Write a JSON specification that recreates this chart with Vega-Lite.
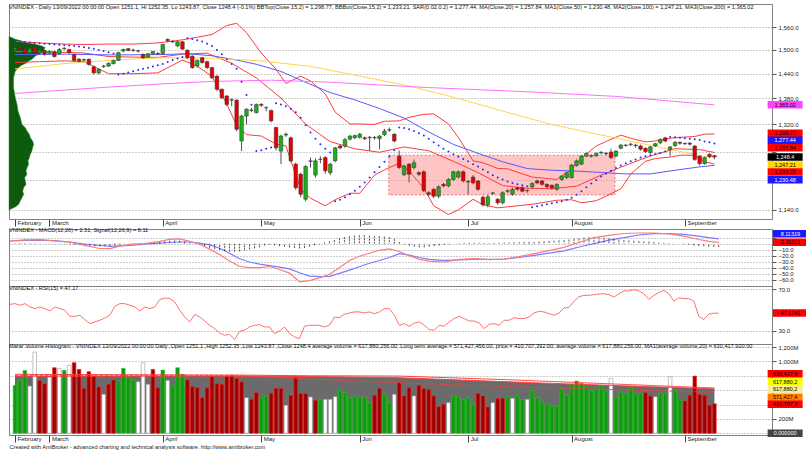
{
"$schema":"https://vega.github.io/schema/vega-lite/v6.json",
"background":"white",
"padding":{"left":7,"top":3,"right":0,"bottom":0},
"autosize":{"type":"pad"},
"config":{
"font":"Liberation Sans",
"view":{"stroke":"#808080","strokeWidth":1},
"axis":{"labelFont":"Liberation Sans","labelFontSize":6,"labelColor":"#222","tickColor":"#555","domain":false,"gridColor":"#9a9a9a","gridDash":[1,2],"gridWidth":1,"labelOverlap":false},
"title":{"font":"Liberation Sans","fontSize":5.6,"fontWeight":"normal","color":"#111","anchor":"start","baseline":"top","frame":"group"}
},
"datasets":{
"bars":[
{"i":0,"o":1500,"h":1508,"l":1495,"c":1505,"v":667,"vc":"g","sar":1522,"hist":0.5,"rsi":55.6},
{"i":1,"o":1505,"h":1510,"l":1498,"c":1502,"v":736,"vc":"g","sar":1521,"hist":0.8,"rsi":56.3},
{"i":2,"o":1502,"h":1505,"l":1488,"c":1492,"v":875,"vc":"g","sar":1520,"hist":1,"rsi":54.7},
{"i":3,"o":1492,"h":1505,"l":1490,"c":1503,"v":657,"vc":"w","sar":1519,"hist":1.2,"rsi":56.3},
{"i":4,"o":1507,"h":1510,"l":1490,"c":1493,"v":1130,"vc":"w","sar":1518,"hist":1,"rsi":53.1},
{"i":5,"o":1493,"h":1502,"l":1488,"c":1499,"v":736,"vc":"r","sar":1517,"hist":0.8,"rsi":51.5},
{"i":6,"o":1495,"h":1498,"l":1485,"c":1489,"v":690,"vc":"r","sar":1516,"hist":0.5,"rsi":53.1},
{"i":7,"o":1491,"h":1499,"l":1488,"c":1496,"v":782,"vc":"w","sar":1515,"hist":0.2,"rsi":51.5},
{"i":8,"o":1495,"h":1498,"l":1480,"c":1483,"v":912,"vc":"r","sar":1514,"hist":0,"rsi":49.2},
{"i":9,"o":1490,"h":1505,"l":1487,"c":1501,"v":903,"vc":"w","sar":1513,"hist":-0.3,"rsi":53.1},
{"i":10,"o":1503,"h":1507,"l":1500,"c":1504,"v":875,"vc":"g","sar":1512,"hist":-0.5,"rsi":51.5},
{"i":11,"o":1501,"h":1503,"l":1490,"c":1493,"v":945,"vc":"w","sar":1511,"hist":-0.8,"rsi":49.9},
{"i":12,"o":1488,"h":1490,"l":1470,"c":1473,"v":982,"vc":"r","sar":1510,"hist":-1.5,"rsi":44.1},
{"i":13,"o":1476,"h":1479,"l":1468,"c":1472,"v":889,"vc":"r","sar":1509,"hist":-2,"rsi":44.1},
{"i":14,"o":1475,"h":1478,"l":1470,"c":1474,"v":625,"vc":"r","sar":1507,"hist":-2.5,"rsi":45.1},
{"i":15,"o":1476,"h":1478,"l":1460,"c":1463,"v":857,"vc":"r","sar":1505,"hist":-3,"rsi":40.9},
{"i":16,"o":1457,"h":1460,"l":1438,"c":1442,"v":796,"vc":"r","sar":1503,"hist":-3.5,"rsi":37.1},
{"i":17,"o":1442,"h":1453,"l":1438,"c":1451,"v":644,"vc":"r","sar":1500,"hist":-4,"rsi":38.7},
{"i":18,"o":1458,"h":1462,"l":1454,"c":1459,"v":542,"vc":"w","sar":1497,"hist":-4.5,"rsi":40.3},
{"i":19,"o":1459,"h":1468,"l":1456,"c":1466,"v":681,"vc":"r","sar":1494,"hist":-4.2,"rsi":42.5},
{"i":20,"o":1465,"h":1475,"l":1463,"c":1473,"v":741,"vc":"r","sar":1491,"hist":-3.9,"rsi":45.1},
{"i":21,"o":1473,"h":1495,"l":1472,"c":1493,"v":727,"vc":"g","sar":1438,"hist":-3,"rsi":53.7},
{"i":22,"o":1497,"h":1503,"l":1494,"c":1501,"v":903,"vc":"g","sar":1440,"hist":-1.5,"rsi":56.3},
{"i":23,"o":1503,"h":1505,"l":1496,"c":1499,"v":782,"vc":"g","sar":1443,"hist":-0.5,"rsi":56.3},
{"i":24,"o":1499.5,"h":1503,"l":1495,"c":1499,"v":750,"vc":"g","sar":1446,"hist":0.5,"rsi":54.7},
{"i":25,"o":1497.5,"h":1500,"l":1493,"c":1497,"v":718,"vc":"w","sar":1449,"hist":1,"rsi":53.1},
{"i":26,"o":1488,"h":1491,"l":1477,"c":1480,"v":982,"vc":"w","sar":1452,"hist":1.2,"rsi":49.2},
{"i":27,"o":1482,"h":1492,"l":1480,"c":1490,"v":681,"vc":"w","sar":1455,"hist":1.5,"rsi":53.1},
{"i":28,"o":1490,"h":1497,"l":1487,"c":1496,"v":889,"vc":"r","sar":1458,"hist":1.8,"rsi":51.5},
{"i":29,"o":1491,"h":1494,"l":1487,"c":1490,"v":634,"vc":"r","sar":1461,"hist":2,"rsi":53.1},
{"i":30,"o":1490,"h":1516,"l":1488,"c":1514,"v":880,"vc":"g","sar":1464,"hist":3,"rsi":60.1},
{"i":31,"o":1527,"h":1530,"l":1520,"c":1524,"v":736,"vc":"w","sar":1469,"hist":4,"rsi":61.7},
{"i":32,"o":1522,"h":1525,"l":1518,"c":1521,"v":657,"vc":"g","sar":1474,"hist":5,"rsi":61.1},
{"i":33,"o":1510,"h":1523,"l":1508,"c":1521,"v":912,"vc":"g","sar":1478,"hist":5.5,"rsi":57.9},
{"i":34,"o":1521,"h":1523,"l":1500,"c":1502,"v":820,"vc":"g","sar":1482,"hist":5.2,"rsi":49.9},
{"i":35,"o":1499,"h":1501,"l":1477,"c":1480,"v":741,"vc":"r","sar":1530,"hist":3.5,"rsi":43.5},
{"i":36,"o":1484,"h":1486,"l":1452,"c":1455,"v":648,"vc":"r","sar":1528,"hist":1.5,"rsi":38.7},
{"i":37,"o":1459,"h":1476,"l":1455,"c":1473,"v":634,"vc":"r","sar":1525,"hist":-0.5,"rsi":45.8},
{"i":38,"o":1480,"h":1482,"l":1465,"c":1468,"v":495,"vc":"r","sar":1522,"hist":-2,"rsi":43.5},
{"i":39,"o":1470,"h":1472,"l":1452,"c":1455,"v":634,"vc":"r","sar":1516,"hist":-4,"rsi":39.6},
{"i":40,"o":1455,"h":1457,"l":1427,"c":1430,"v":796,"vc":"r","sar":1510,"hist":-7,"rsi":35.5},
{"i":41,"o":1434,"h":1436,"l":1398,"c":1402,"v":690,"vc":"r","sar":1500,"hist":-9,"rsi":32.3},
{"i":42,"o":1402,"h":1404,"l":1378,"c":1382,"v":681,"vc":"r","sar":1489,"hist":-10.5,"rsi":28.1},
{"i":43,"o":1386,"h":1388,"l":1362,"c":1366,"v":796,"vc":"r","sar":1476,"hist":-12,"rsi":25.9},
{"i":44,"o":1376,"h":1380,"l":1362,"c":1377,"v":806,"vc":"r","sar":1464,"hist":-13,"rsi":26.8},
{"i":45,"o":1376,"h":1378,"l":1305,"c":1309,"v":764,"vc":"r","sar":1452,"hist":-13.5,"rsi":21.7},
{"i":46,"o":1283,"h":1342,"l":1261,"c":1339,"v":713,"vc":"r","sar":1420,"hist":-13,"rsi":29.7},
{"i":47,"o":1339,"h":1357,"l":1320,"c":1355,"v":495,"vc":"w","sar":1388,"hist":-11,"rsi":30.7},
{"i":48,"o":1352,"h":1358,"l":1348,"c":1353,"v":472,"vc":"r","sar":1365,"hist":-9.5,"rsi":33.9},
{"i":49,"o":1347,"h":1368,"l":1345,"c":1366,"v":565,"vc":"r","sar":1261,"hist":-7.5,"rsi":35.5},
{"i":50,"o":1366,"h":1369,"l":1360,"c":1364,"v":495,"vc":"g","sar":1263,"hist":-6,"rsi":36.1},
{"i":51,"o":1358.5,"h":1362,"l":1350,"c":1358,"v":519,"vc":"g","sar":1266,"hist":-3,"rsi":33.9},
{"i":52,"o":1352,"h":1354,"l":1325,"c":1328,"v":556,"vc":"r","sar":1269,"hist":-1.5,"rsi":33.9},
{"i":53,"o":1313,"h":1315,"l":1262,"c":1268,"v":625,"vc":"r","sar":1369,"hist":-3,"rsi":27.5},
{"i":54,"o":1261,"h":1297,"l":1233,"c":1294,"v":625,"vc":"r","sar":1366,"hist":-4,"rsi":30},
{"i":55,"o":1296,"h":1302,"l":1292,"c":1298,"v":389,"vc":"w","sar":1362,"hist":-5,"rsi":33.9},
{"i":56,"o":1290,"h":1293,"l":1237,"c":1240,"v":528,"vc":"r","sar":1356,"hist":-6,"rsi":27.5},
{"i":57,"o":1233,"h":1236,"l":1180,"c":1184,"v":778,"vc":"r","sar":1348,"hist":-7,"rsi":24.3},
{"i":58,"o":1212,"h":1215,"l":1165,"c":1171,"v":551,"vc":"r","sar":1335,"hist":-8,"rsi":22.7},
{"i":59,"o":1161,"h":1231,"l":1157,"c":1228,"v":551,"vc":"r","sar":1318,"hist":-7,"rsi":34.5},
{"i":60,"o":1240,"h":1247,"l":1226,"c":1239,"v":505,"vc":"w","sar":1302,"hist":-5,"rsi":35.5},
{"i":61,"o":1210,"h":1245,"l":1205,"c":1240,"v":458,"vc":"r","sar":1288,"hist":-3,"rsi":35.5},
{"i":62,"o":1243,"h":1250,"l":1235,"c":1243.5,"v":463,"vc":"g","sar":1276,"hist":-1,"rsi":35.5},
{"i":63,"o":1247,"h":1250,"l":1213,"c":1219,"v":472,"vc":"w","sar":1266,"hist":2,"rsi":33.9},
{"i":64,"o":1215,"h":1236,"l":1210,"c":1233,"v":472,"vc":"w","sar":1258,"hist":4,"rsi":35.5},
{"i":65,"o":1240,"h":1270,"l":1237,"c":1268,"v":509,"vc":"w","sar":1157,"hist":6,"rsi":43.5},
{"i":66,"o":1272,"h":1275,"l":1265,"c":1268,"v":602,"vc":"g","sar":1160,"hist":9,"rsi":42.8},
{"i":67,"o":1272,"h":1290,"l":1268,"c":1286,"v":565,"vc":"g","sar":1165,"hist":11,"rsi":46},
{"i":68,"o":1287,"h":1296,"l":1284,"c":1294,"v":495,"vc":"g","sar":1171,"hist":12.5,"rsi":47.3},
{"i":69,"o":1290,"h":1297,"l":1287,"c":1295,"v":519,"vc":"g","sar":1178,"hist":13.5,"rsi":48.3},
{"i":70,"o":1291,"h":1301,"l":1288,"c":1298,"v":495,"vc":"g","sar":1186,"hist":14,"rsi":48.3},
{"i":71,"o":1290,"h":1293,"l":1285,"c":1288,"v":505,"vc":"g","sar":1195,"hist":14,"rsi":47.3},
{"i":72,"o":1290,"h":1294,"l":1261,"c":1291,"v":426,"vc":"g","sar":1205,"hist":13.5,"rsi":48.3},
{"i":73,"o":1290.5,"h":1294,"l":1286,"c":1290,"v":528,"vc":"r","sar":1216,"hist":13,"rsi":46.6},
{"i":74,"o":1288,"h":1296,"l":1265,"c":1294,"v":625,"vc":"r","sar":1227,"hist":12.5,"rsi":48.3},
{"i":75,"o":1297,"h":1310,"l":1294,"c":1305,"v":542,"vc":"g","sar":1238,"hist":12,"rsi":51.5},
{"i":76,"o":1307,"h":1313,"l":1303,"c":1308,"v":435,"vc":"g","sar":1250,"hist":11,"rsi":51.5},
{"i":77,"o":1298,"h":1300,"l":1280,"c":1283,"v":542,"vc":"w","sar":1263,"hist":8,"rsi":45.1},
{"i":78,"o":1250,"h":1262,"l":1223,"c":1226,"v":704,"vc":"r","sar":1313,"hist":3,"rsi":35.5},
{"i":79,"o":1211,"h":1232,"l":1208,"c":1229,"v":519,"vc":"r","sar":1312,"hist":-1,"rsi":37.1},
{"i":80,"o":1233,"h":1235,"l":1195,"c":1212,"v":634,"vc":"r","sar":1309,"hist":-3,"rsi":34.5},
{"i":81,"o":1226,"h":1243,"l":1222,"c":1236,"v":519,"vc":"w","sar":1305,"hist":-5,"rsi":37.7},
{"i":82,"o":1215,"h":1218,"l":1208,"c":1212,"v":667,"vc":"r","sar":1300,"hist":-6,"rsi":38.7},
{"i":83,"o":1217,"h":1220,"l":1175,"c":1178,"v":620,"vc":"r","sar":1295,"hist":-6,"rsi":35.5},
{"i":84,"o":1174,"h":1177,"l":1167,"c":1171,"v":611,"vc":"r","sar":1288,"hist":-5,"rsi":31.3},
{"i":85,"o":1181,"h":1183,"l":1163,"c":1167,"v":519,"vc":"r","sar":1280,"hist":-4,"rsi":30.7},
{"i":86,"o":1167,"h":1189,"l":1163,"c":1186,"v":370,"vc":"r","sar":1273,"hist":-3,"rsi":35.5},
{"i":87,"o":1191,"h":1194,"l":1185,"c":1188,"v":403,"vc":"r","sar":1266,"hist":-2,"rsi":34.5},
{"i":88,"o":1188,"h":1204,"l":1185,"c":1201,"v":426,"vc":"w","sar":1260,"hist":-1,"rsi":38.7},
{"i":89,"o":1201,"h":1219,"l":1198,"c":1217,"v":519,"vc":"g","sar":1254,"hist":0,"rsi":41.9},
{"i":90,"o":1206,"h":1220,"l":1203,"c":1217,"v":509,"vc":"g","sar":1249,"hist":1,"rsi":44.1},
{"i":91,"o":1217,"h":1220,"l":1195,"c":1198,"v":472,"vc":"g","sar":1244,"hist":1.5,"rsi":41.9},
{"i":92,"o":1197,"h":1200,"l":1171,"c":1196,"v":495,"vc":"g","sar":1239,"hist":1.5,"rsi":39.6},
{"i":93,"o":1206,"h":1210,"l":1191,"c":1194,"v":403,"vc":"g","sar":1233,"hist":1.5,"rsi":39.6},
{"i":94,"o":1198,"h":1200,"l":1178,"c":1181,"v":556,"vc":"r","sar":1228,"hist":1.5,"rsi":37.7},
{"i":95,"o":1165,"h":1168,"l":1147,"c":1150,"v":519,"vc":"r","sar":1222,"hist":1,"rsi":32.3},
{"i":96,"o":1150,"h":1170,"l":1145,"c":1166,"v":366,"vc":"r","sar":1216,"hist":1,"rsi":36.4},
{"i":97,"o":1173,"h":1176,"l":1170,"c":1173.5,"v":426,"vc":"w","sar":1210,"hist":1.5,"rsi":37.1},
{"i":98,"o":1161,"h":1163,"l":1150,"c":1154,"v":482,"vc":"r","sar":1205,"hist":1.5,"rsi":35.5},
{"i":99,"o":1154,"h":1177,"l":1151,"c":1174,"v":486,"vc":"r","sar":1201,"hist":2,"rsi":40.3},
{"i":100,"o":1177,"h":1181,"l":1174,"c":1178,"v":509,"vc":"g","sar":1197,"hist":2,"rsi":40.3},
{"i":101,"o":1171,"h":1184,"l":1168,"c":1181,"v":486,"vc":"w","sar":1194,"hist":2.5,"rsi":42.8},
{"i":102,"o":1184,"h":1186,"l":1178,"c":1181,"v":528,"vc":"g","sar":1191,"hist":2.5,"rsi":41.9},
{"i":103,"o":1184,"h":1187,"l":1175,"c":1177,"v":472,"vc":"g","sar":1189,"hist":3,"rsi":41.9},
{"i":104,"o":1178.5,"h":1181,"l":1174,"c":1178,"v":472,"vc":"w","sar":1187,"hist":3,"rsi":43.5},
{"i":105,"o":1186,"h":1195,"l":1183,"c":1193,"v":597,"vc":"g","sar":1145,"hist":3,"rsi":47.3},
{"i":106,"o":1198,"h":1201,"l":1191,"c":1194,"v":495,"vc":"g","sar":1147,"hist":3.5,"rsi":48.9},
{"i":107,"o":1198,"h":1200,"l":1188,"c":1191,"v":435,"vc":"g","sar":1149,"hist":4,"rsi":48.3},
{"i":108,"o":1191,"h":1193,"l":1183,"c":1186,"v":403,"vc":"g","sar":1151,"hist":4.5,"rsi":46.6},
{"i":109,"o":1189,"h":1191,"l":1180,"c":1184,"v":380,"vc":"g","sar":1153,"hist":5,"rsi":45.1},
{"i":110,"o":1181,"h":1193,"l":1178,"c":1191,"v":380,"vc":"g","sar":1155,"hist":5.5,"rsi":47.3},
{"i":111,"o":1201,"h":1210,"l":1198,"c":1208,"v":620,"vc":"g","sar":1157,"hist":6,"rsi":52.1},
{"i":112,"o":1205,"h":1217,"l":1202,"c":1215,"v":528,"vc":"g","sar":1160,"hist":7,"rsi":52.7},
{"i":113,"o":1205,"h":1233,"l":1203,"c":1231,"v":681,"vc":"g","sar":1164,"hist":8,"rsi":58.5},
{"i":114,"o":1230,"h":1243,"l":1228,"c":1240,"v":727,"vc":"g","sar":1170,"hist":9,"rsi":62.9},
{"i":115,"o":1233,"h":1252,"l":1231,"c":1250,"v":695,"vc":"g","sar":1177,"hist":10,"rsi":64.2},
{"i":116,"o":1250,"h":1258,"l":1248,"c":1256,"v":657,"vc":"g","sar":1185,"hist":11,"rsi":64.2},
{"i":117,"o":1250,"h":1254,"l":1247,"c":1251,"v":588,"vc":"g","sar":1193,"hist":11,"rsi":64.9},
{"i":118,"o":1251,"h":1258,"l":1249,"c":1256,"v":634,"vc":"g","sar":1200,"hist":10.5,"rsi":65.5},
{"i":119,"o":1257,"h":1261,"l":1254,"c":1258,"v":657,"vc":"g","sar":1207,"hist":10,"rsi":65.8},
{"i":120,"o":1256,"h":1259,"l":1252,"c":1255,"v":574,"vc":"g","sar":1213,"hist":9,"rsi":64.9},
{"i":121,"o":1259,"h":1266,"l":1244,"c":1247,"v":764,"vc":"w","sar":1219,"hist":8,"rsi":62.6},
{"i":122,"o":1250,"h":1263,"l":1248,"c":1261,"v":505,"vc":"g","sar":1225,"hist":7,"rsi":65.8},
{"i":123,"o":1267,"h":1276,"l":1265,"c":1274,"v":574,"vc":"g","sar":1230,"hist":6,"rsi":68.4},
{"i":124,"o":1273,"h":1276,"l":1271,"c":1274,"v":556,"vc":"g","sar":1235,"hist":5.5,"rsi":68.4},
{"i":125,"o":1275,"h":1279,"l":1272,"c":1276,"v":634,"vc":"g","sar":1239,"hist":5,"rsi":69.7},
{"i":126,"o":1274,"h":1277,"l":1268,"c":1273,"v":556,"vc":"g","sar":1243,"hist":4.5,"rsi":68.4},
{"i":127,"o":1272,"h":1275,"l":1262,"c":1265,"v":556,"vc":"g","sar":1247,"hist":4,"rsi":65.8},
{"i":128,"o":1267,"h":1269,"l":1257,"c":1260,"v":565,"vc":"r","sar":1250,"hist":3.5,"rsi":60.4},
{"i":129,"o":1258,"h":1272,"l":1255,"c":1270,"v":519,"vc":"r","sar":1252,"hist":3,"rsi":64.2},
{"i":130,"o":1272,"h":1279,"l":1270,"c":1277,"v":509,"vc":"w","sar":1254,"hist":2,"rsi":66.8},
{"i":131,"o":1279,"h":1289,"l":1276,"c":1286,"v":556,"vc":"g","sar":1257,"hist":1.5,"rsi":69},
{"i":132,"o":1290,"h":1292,"l":1280,"c":1283,"v":556,"vc":"g","sar":1260,"hist":1,"rsi":65.8},
{"i":133,"o":1264,"h":1272,"l":1250,"c":1270,"v":787,"vc":"w","sar":1292,"hist":0.5,"rsi":58.8},
{"i":134,"o":1273,"h":1283,"l":1270,"c":1280,"v":602,"vc":"g","sar":1291,"hist":0,"rsi":61.9},
{"i":135,"o":1280,"h":1282,"l":1275,"c":1278,"v":463,"vc":"g","sar":1290,"hist":-1,"rsi":61.1},
{"i":136,"o":1277.5,"h":1280,"l":1274,"c":1277,"v":449,"vc":"r","sar":1289,"hist":-2,"rsi":61.1},
{"i":137,"o":1278,"h":1281,"l":1273,"c":1276,"v":528,"vc":"r","sar":1288,"hist":-3,"rsi":58.8},
{"i":138,"o":1272,"h":1274,"l":1240,"c":1243,"v":796,"vc":"r","sar":1287,"hist":-4,"rsi":44.1},
{"i":139,"o":1250,"h":1252,"l":1230,"c":1234,"v":542,"vc":"r","sar":1285,"hist":-4.5,"rsi":40.9},
{"i":140,"o":1234,"h":1249,"l":1232,"c":1247,"v":528,"vc":"r","sar":1282,"hist":-5,"rsi":46.3},
{"i":141,"o":1254,"h":1256,"l":1246,"c":1249,"v":389,"vc":"r","sar":1280,"hist":-5.5,"rsi":47},
{"i":142,"o":1251.1,"h":1252.35,"l":1243.87,"c":1248.4,"v":410.7,"vc":"r","sar":1277.44,"hist":-5.8,"rsi":47.17}
],
"lines":[
{"i":0,"k":"bbt","v":1522},{"i":5,"k":"bbt","v":1518},{"i":10,"k":"bbt","v":1515},{"i":14,"k":"bbt","v":1514},{"i":19,"k":"bbt","v":1515},{"i":24,"k":"bbt","v":1515},{"i":29,"k":"bbt","v":1518},{"i":34,"k":"bbt","v":1526},{"i":37,"k":"bbt","v":1533},{"i":40,"k":"bbt","v":1540},{"i":43,"k":"bbt","v":1564},{"i":45,"k":"bbt","v":1570},{"i":47,"k":"bbt","v":1545},{"i":50,"k":"bbt","v":1492},{"i":53,"k":"bbt","v":1451},{"i":55,"k":"bbt","v":1416},{"i":58,"k":"bbt","v":1434},{"i":60,"k":"bbt","v":1422},{"i":63,"k":"bbt","v":1391},{"i":65,"k":"bbt","v":1348},{"i":68,"k":"bbt","v":1321},{"i":70,"k":"bbt","v":1321},{"i":73,"k":"bbt","v":1320},{"i":75,"k":"bbt","v":1327},{"i":78,"k":"bbt","v":1328},{"i":80,"k":"bbt","v":1336},{"i":83,"k":"bbt","v":1343},{"i":85,"k":"bbt","v":1344},{"i":88,"k":"bbt","v":1321},{"i":90,"k":"bbt","v":1291},{"i":93,"k":"bbt","v":1240},{"i":95,"k":"bbt","v":1236},{"i":98,"k":"bbt","v":1224},{"i":100,"k":"bbt","v":1223},{"i":105,"k":"bbt","v":1206},{"i":110,"k":"bbt","v":1201},{"i":113,"k":"bbt","v":1222},{"i":115,"k":"bbt","v":1246},{"i":118,"k":"bbt","v":1272},{"i":120,"k":"bbt","v":1282},{"i":123,"k":"bbt","v":1296},{"i":125,"k":"bbt","v":1289},{"i":128,"k":"bbt","v":1281},{"i":130,"k":"bbt","v":1283},{"i":133,"k":"bbt","v":1289},{"i":135,"k":"bbt","v":1291},{"i":138,"k":"bbt","v":1293},{"i":140,"k":"bbt","v":1298},{"i":142,"k":"bbt","v":1298.8},
{"i":0,"k":"bbb","v":1468},{"i":5,"k":"bbb","v":1470},{"i":10,"k":"bbb","v":1472},{"i":14,"k":"bbb","v":1470},{"i":19,"k":"bbb","v":1440},{"i":24,"k":"bbb","v":1440},{"i":29,"k":"bbb","v":1442},{"i":34,"k":"bbb","v":1474},{"i":37,"k":"bbb","v":1459},{"i":40,"k":"bbb","v":1433},{"i":43,"k":"bbb","v":1367},{"i":45,"k":"bbb","v":1318},{"i":47,"k":"bbb","v":1297},{"i":50,"k":"bbb","v":1294},{"i":53,"k":"bbb","v":1276},{"i":55,"k":"bbb","v":1272},{"i":58,"k":"bbb","v":1181},{"i":60,"k":"bbb","v":1163},{"i":63,"k":"bbb","v":1148},{"i":65,"k":"bbb","v":1160},{"i":68,"k":"bbb","v":1173},{"i":70,"k":"bbb","v":1173},{"i":73,"k":"bbb","v":1210},{"i":75,"k":"bbb","v":1221},{"i":78,"k":"bbb","v":1235},{"i":80,"k":"bbb","v":1219},{"i":83,"k":"bbb","v":1183},{"i":85,"k":"bbb","v":1148},{"i":88,"k":"bbb","v":1131},{"i":90,"k":"bbb","v":1140},{"i":93,"k":"bbb","v":1161},{"i":95,"k":"bbb","v":1150},{"i":98,"k":"bbb","v":1144},{"i":100,"k":"bbb","v":1146},{"i":105,"k":"bbb","v":1151},{"i":110,"k":"bbb","v":1159},{"i":113,"k":"bbb","v":1160},{"i":115,"k":"bbb","v":1154},{"i":118,"k":"bbb","v":1158},{"i":120,"k":"bbb","v":1167},{"i":123,"k":"bbb","v":1182},{"i":125,"k":"bbb","v":1212},{"i":128,"k":"bbb","v":1239},{"i":130,"k":"bbb","v":1245},{"i":133,"k":"bbb","v":1248},{"i":135,"k":"bbb","v":1252},{"i":138,"k":"bbb","v":1252},{"i":140,"k":"bbb","v":1238},{"i":142,"k":"bbb","v":1233.2},
{"i":0,"k":"ma20","v":1496},{"i":4,"k":"ma20","v":1495},{"i":9,"k":"ma20","v":1494},{"i":14,"k":"ma20","v":1492},{"i":19,"k":"ma20","v":1483},{"i":24,"k":"ma20","v":1481.5},{"i":29,"k":"ma20","v":1480.8},{"i":34,"k":"ma20","v":1489},{"i":39,"k":"ma20","v":1491.6},{"i":44,"k":"ma20","v":1466},{"i":49,"k":"ma20","v":1429.6},{"i":54,"k":"ma20","v":1381},{"i":59,"k":"ma20","v":1320.6},{"i":64,"k":"ma20","v":1281.5},{"i":69,"k":"ma20","v":1265.9},{"i":74,"k":"ma20","v":1258.4},{"i":79,"k":"ma20","v":1269.9},{"i":84,"k":"ma20","v":1261.6},{"i":89,"k":"ma20","v":1239},{"i":94,"k":"ma20","v":1215.3},{"i":99,"k":"ma20","v":1188.6},{"i":104,"k":"ma20","v":1182.9},{"i":109,"k":"ma20","v":1182.3},{"i":114,"k":"ma20","v":1187.3},{"i":119,"k":"ma20","v":1210},{"i":124,"k":"ma20","v":1230.8},{"i":129,"k":"ma20","v":1250.6},{"i":134,"k":"ma20","v":1266.1},{"i":139,"k":"ma20","v":1264},{"i":142,"k":"ma20","v":1258},
{"i":0,"k":"ma50","v":1488},{"i":10,"k":"ma50","v":1489},{"i":20,"k":"ma50","v":1487},{"i":30,"k":"ma50","v":1488},{"i":35,"k":"ma50","v":1490},{"i":40,"k":"ma50","v":1485},{"i":45,"k":"ma50","v":1474},{"i":49,"k":"ma50","v":1463.4},{"i":54,"k":"ma50","v":1445.7},{"i":59,"k":"ma50","v":1418.8},{"i":64,"k":"ma50","v":1394},{"i":69,"k":"ma50","v":1376.6},{"i":74,"k":"ma50","v":1356.5},{"i":79,"k":"ma50","v":1334.4},{"i":84,"k":"ma50","v":1303},{"i":89,"k":"ma50","v":1275.5},{"i":94,"k":"ma50","v":1256.1},{"i":99,"k":"ma50","v":1238},{"i":104,"k":"ma50","v":1223.7},{"i":109,"k":"ma50","v":1220.2},{"i":114,"k":"ma50","v":1218.4},{"i":119,"k":"ma50","v":1215.6},{"i":124,"k":"ma50","v":1212.6},{"i":129,"k":"ma50","v":1212.5},{"i":134,"k":"ma50","v":1220.2},{"i":139,"k":"ma50","v":1227.2},{"i":142,"k":"ma50","v":1230.5},
{"i":0,"k":"ma100","v":1452},{"i":10,"k":"ma100","v":1465},{"i":20,"k":"ma100","v":1474},{"i":30,"k":"ma100","v":1480},{"i":40,"k":"ma100","v":1479},{"i":50,"k":"ma100","v":1472},{"i":60,"k":"ma100","v":1458},{"i":70,"k":"ma100","v":1434},{"i":80,"k":"ma100","v":1410},{"i":89,"k":"ma100","v":1383},{"i":99,"k":"ma100","v":1350.7},{"i":109,"k":"ma100","v":1319.5},{"i":119,"k":"ma100","v":1296.1},{"i":129,"k":"ma100","v":1273.5},{"i":139,"k":"ma100","v":1251.4},{"i":142,"k":"ma100","v":1247.2},
{"i":0,"k":"ma200","v":1392},{"i":10,"k":"ma200","v":1400},{"i":20,"k":"ma200","v":1408},{"i":30,"k":"ma200","v":1415},{"i":40,"k":"ma200","v":1421},{"i":52,"k":"ma200","v":1424},{"i":64,"k":"ma200","v":1419},{"i":84,"k":"ma200","v":1406},{"i":104,"k":"ma200","v":1396},{"i":122,"k":"ma200","v":1385},{"i":142,"k":"ma200","v":1365}
],
"profile":[
{"p":1535,"pv":0},{"p":1531.7,"pv":8},{"p":1527.3,"pv":17},{"p":1523,"pv":34},{"p":1518.6,"pv":47},{"p":1514.3,"pv":69},{"p":1510,"pv":86.5},{"p":1505.7,"pv":95},{"p":1501.4,"pv":91},{"p":1497.1,"pv":99.6},{"p":1492.8,"pv":86.5},{"p":1488.5,"pv":78},{"p":1484.3,"pv":69},{"p":1480.1,"pv":64.6},{"p":1475.8,"pv":60},{"p":1471.6,"pv":51.6},{"p":1467.4,"pv":47},{"p":1463.2,"pv":38.5},{"p":1459,"pv":30},{"p":1454.9,"pv":25.4},{"p":1446.6,"pv":16.6},{"p":1430.1,"pv":12},{"p":1405.8,"pv":12},{"p":1381.9,"pv":16.6},{"p":1366.2,"pv":21},{"p":1350.7,"pv":23.6},{"p":1335.3,"pv":29.7},{"p":1320.1,"pv":34},{"p":1312.6,"pv":42.8},{"p":1305.1,"pv":47.2},{"p":1297.7,"pv":53.3},{"p":1290.3,"pv":55.9},{"p":1282.9,"pv":62},{"p":1275.6,"pv":64.6},{"p":1268.4,"pv":62},{"p":1261.1,"pv":60},{"p":1253.9,"pv":55.9},{"p":1246.8,"pv":53.3},{"p":1239.7,"pv":49.8},{"p":1232.6,"pv":51.6},{"p":1225.6,"pv":47.2},{"p":1218.6,"pv":44.6},{"p":1211.6,"pv":47.2},{"p":1204.7,"pv":41},{"p":1197.9,"pv":42.8},{"p":1191,"pv":44.6},{"p":1184.3,"pv":38.5},{"p":1177.5,"pv":35.8},{"p":1170.8,"pv":38.5},{"p":1164.1,"pv":34},{"p":1157.5,"pv":29.7},{"p":1150.9,"pv":25.4},{"p":1145.6,"pv":16.6},{"p":1141,"pv":3.5},{"p":1139,"pv":0}
],
"macd":[
{"i":0,"m":4.5,"s":4.5},{"i":3,"m":6.5,"s":5.5},{"i":6,"m":6.7,"s":6},{"i":9,"m":4.5,"s":5},{"i":12,"m":2.5,"s":2.8},{"i":15,"m":-2.7,"s":-0.5},{"i":18,"m":-8,"s":-3},{"i":20,"m":-8.3,"s":-4.4},{"i":22,"m":-4,"s":-3.5},{"i":24,"m":-1,"s":-2.7},{"i":27,"m":0,"s":-0.8},{"i":30,"m":4,"s":0.8},{"i":32,"m":7.3,"s":2},{"i":34,"m":8,"s":2.8},{"i":36,"m":4,"s":2.8},{"i":38,"m":-1,"s":1},{"i":40,"m":-9,"s":-2},{"i":42,"m":-18,"s":-7.5},{"i":44,"m":-29,"s":-16},{"i":46,"m":-38,"s":-25},{"i":48,"m":-40,"s":-30.5},{"i":50,"m":-40,"s":-34},{"i":52,"m":-38,"s":-36.5},{"i":54,"m":-43,"s":-39},{"i":56,"m":-49,"s":-42},{"i":58,"m":-63.5,"s":-48.5},{"i":60,"m":-61.5,"s":-54},{"i":62,"m":-57,"s":-55},{"i":64,"m":-51,"s":-54.5},{"i":66,"m":-40,"s":-49.5},{"i":68,"m":-28,"s":-44},{"i":70,"m":-21,"s":-38.5},{"i":72,"m":-16,"s":-32.5},{"i":74,"m":-11,"s":-28},{"i":76,"m":-8.5,"s":-23},{"i":78,"m":-13,"s":-16.5},{"i":80,"m":-20,"s":-19},{"i":82,"m":-26,"s":-23},{"i":84,"m":-29,"s":-26},{"i":87,"m":-30.5,"s":-27.7},{"i":90,"m":-26,"s":-27},{"i":93,"m":-25,"s":-26.1},{"i":96,"m":-26.6,"s":-26.1},{"i":99,"m":-25.5,"s":-25.8},{"i":102,"m":-21.5,"s":-23},{"i":105,"m":-16.6,"s":-19.4},{"i":108,"m":-11.5,"s":-15.8},{"i":111,"m":-6,"s":-12},{"i":114,"m":2,"s":-5.5},{"i":117,"m":10,"s":0},{"i":120,"m":14,"s":6},{"i":123,"m":17,"s":10},{"i":126,"m":17.8,"s":14.5},{"i":129,"m":17.8,"s":16.7},{"i":132,"m":16.5,"s":16.7},{"i":135,"m":12.5,"s":15.6},{"i":138,"m":7,"s":12.5},{"i":140,"m":4,"s":10},{"i":142,"m":2.31,"s":8.11}
],
"vavg":[
{"i":0,"k":"avg","v":796},{"i":45,"k":"avg","v":796},{"i":65,"k":"avg","v":785},{"i":78,"k":"avg","v":773},{"i":105,"k":"avg","v":704},{"i":125,"k":"avg","v":657},{"i":142,"k":"avg","v":617.9},
{"i":0,"k":"m20","v":820},{"i":45,"k":"m20","v":810},{"i":60,"k":"m20","v":800},{"i":78,"k":"m20","v":796},{"i":100,"k":"m20","v":745},{"i":120,"k":"m20","v":690},{"i":142,"k":"m20","v":630.4},
{"i":0,"k":"lt","v":800},{"i":45,"k":"lt","v":800},{"i":60,"k":"lt","v":755},{"i":78,"k":"lt","v":700},{"i":100,"k":"lt","v":650},{"i":120,"k":"lt","v":610},{"i":142,"k":"lt","v":571.4}
]
},
"spacing":10,
"bounds":"flush",
"vconcat":[
{
"width":763,"height":215,
"title":{"text":"VNINDEX - Daily 13/09/2022 00:00:00 Open 1251.1, Hi 1252.35, Lo 1243.87, Close 1248.4 (-0.1%) BBTop(Close,15,2) = 1,298.77, BBBot(Close,15,2) = 1,233.21, SAR(0.02,0.2) = 1,277.44, MA(Close,20) = 1,257.84, MA1(Close,50) = 1,230.48, MA2(Close,100) = 1,247.21, MA3(Close,200) = 1,365.02","limit":790,"offset":-7},
"resolve":{"scale":{"x":"independent"},"axis":{"x":"independent"}},
"layer":[
{"data":{"name":"profile"},
"mark":{"type":"area","orient":"horizontal","fill":"#0c5a0c","stroke":"#2f8a2f","strokeWidth":0.5},
"encoding":{
"x":{"field":"pv","type":"quantitative","scale":{"domain":[0,2000],"nice":false,"zero":true},"axis":null},
"y":{"field":"p","type":"quantitative","scale":{"type":"log","domain":[1122.3,1622.8],"nice":false}}}},
{"layer":[
{"data":{"values":[{"a":75.88,"b":121.8,"lo":1169.5,"hi":1252}]},
"mark":{"type":"rect","fill":"#ff9c9c","fillOpacity":0.6,"stroke":"#e06060","strokeDash":[2,2],"strokeWidth":0.8},
"encoding":{"x":{"field":"a","type":"quantitative","scale":{"domain":[-0.2,152.67],"nice":false,"zero":false}},"x2":{"field":"b"},
"y":{"field":"lo","type":"quantitative","scale":{"type":"log","domain":[1122.3,1622.8],"nice":false}},"y2":{"field":"hi"}}},
{"data":{"name":"lines"},
"mark":{"type":"line","strokeWidth":1},
"encoding":{"x":{"field":"i","type":"quantitative","scale":{"domain":[-0.2,152.67],"nice":false,"zero":false}},
"y":{"field":"v","type":"quantitative","scale":{"type":"log","domain":[1122.3,1622.8],"nice":false}},
"stroke":{"field":"k","type":"nominal","scale":{"domain":["bbt","bbb","ma20","ma50","ma100","ma200"],"range":["#ff3b3b","#ff3b3b","#ff3b3b","#5a5aff","#ffd54a","#ff70ff"]},"legend":null}}},
{"data":{"name":"bars"},
"mark":{"type":"rule","color":"#505050","strokeWidth":1},
"encoding":{"x":{"field":"i","type":"quantitative","scale":{"domain":[-0.2,152.67],"nice":false,"zero":false},
"axis":{"values":[0,7,30,50,70,92,113,136],"tickCount":30,"labelExpr":"datum.value==0?'February':datum.value==7?'March':datum.value==30?'April':datum.value==50?'May':datum.value==70?'Jun':datum.value==92?'Jul':datum.value==113?'August':'September'","tickSize":7,"labelPadding":-7,"labelAlign":"left","labelBaseline":"top","labelOffset":2,"grid":false,"title":null,"labelFlush":false,"labelBound":false,"labelOverlap":false,"tickColor":"#444"}},
"y":{"field":"l","type":"quantitative","scale":{"type":"log","domain":[1122.3,1622.8],"nice":false},
"axis":{"orient":"right","values":[1140,1200,1260,1320,1380,1440,1500,1560],"tickCount":30,"labelExpr":"datum.value==1200||datum.value==1260?'':format(datum.value,',.1f')","grid":true,"tickSize":4,"labelPadding":2,"title":null,"labelAlign":"left","labelOverlap":false}},
"y2":{"field":"h"}}},
{"data":{"name":"bars"},
"mark":{"type":"bar","width":3.6,"stroke":"#303030","strokeWidth":0.5},
"encoding":{"x":{"field":"i","type":"quantitative","scale":{"domain":[-0.2,152.67],"nice":false,"zero":false}},
"y":{"field":"o","type":"quantitative","scale":{"type":"log","domain":[1122.3,1622.8],"nice":false}},"y2":{"field":"c"},
"fill":{"condition":{"test":"datum.c >= datum.o","value":"#19b019"},"value":"#e80000"}}},
{"data":{"name":"bars"},
"mark":{"type":"circle","size":4,"color":"#2b2bff","opacity":1},
"encoding":{"x":{"field":"i","type":"quantitative","scale":{"domain":[-0.2,152.67],"nice":false,"zero":false}},
"y":{"field":"sar","type":"quantitative","scale":{"type":"log","domain":[1122.3,1622.8],"nice":false}}}},
{"data":{"values":[{"v":1365.02,"t":"1,365.02"}]},"mark":{"type":"point","shape":"M-1,-0.215H1V0.215H-1Z","size":1225,"filled":true,"opacity":1,"strokeWidth":0,"fill":"#ff44ff"},"encoding":{"x":{"datum":156.35,"type":"quantitative","scale":{"domain":[-0.2,152.67],"nice":false,"zero":false}},"y":{"field":"v","type":"quantitative","scale":{"type":"log","domain":[1122.3,1622.8],"nice":false}}}},
{"data":{"values":[{"v":1365.02,"t":"1,365.02"}]},"mark":{"type":"text","fontSize":5.5,"align":"center","baseline":"middle","color":"#000000"},"encoding":{"x":{"datum":156.35,"type":"quantitative","scale":{"domain":[-0.2,152.67],"nice":false,"zero":false}},"y":{"field":"v","type":"quantitative","scale":{"type":"log","domain":[1122.3,1622.8],"nice":false}},"text":{"field":"t"}}},
{"data":{"values":[{"v":1298.77,"t":"1,298.77"}]},"mark":{"type":"point","shape":"M-1,-0.215H1V0.215H-1Z","size":1225,"filled":true,"opacity":1,"strokeWidth":0,"fill":"#ff0000","yOffset":-0.5},"encoding":{"x":{"datum":156.35,"type":"quantitative","scale":{"domain":[-0.2,152.67],"nice":false,"zero":false}},"y":{"field":"v","type":"quantitative","scale":{"type":"log","domain":[1122.3,1622.8],"nice":false}}}},
{"data":{"values":[{"v":1298.77,"t":"1,298.77"}]},"mark":{"type":"text","fontSize":5.5,"align":"center","baseline":"middle","color":"#000000","yOffset":-0.5},"encoding":{"x":{"datum":156.35,"type":"quantitative","scale":{"domain":[-0.2,152.67],"nice":false,"zero":false}},"y":{"field":"v","type":"quantitative","scale":{"type":"log","domain":[1122.3,1622.8],"nice":false}},"text":{"field":"t"}}},
{"data":{"values":[{"v":1277.44,"t":"1,277.44"}]},"mark":{"type":"point","shape":"M-1,-0.215H1V0.215H-1Z","size":1225,"filled":true,"opacity":1,"strokeWidth":0,"fill":"#1a1aff","yOffset":-3.2},"encoding":{"x":{"datum":156.35,"type":"quantitative","scale":{"domain":[-0.2,152.67],"nice":false,"zero":false}},"y":{"field":"v","type":"quantitative","scale":{"type":"log","domain":[1122.3,1622.8],"nice":false}}}},
{"data":{"values":[{"v":1277.44,"t":"1,277.44"}]},"mark":{"type":"text","fontSize":5.5,"align":"center","baseline":"middle","color":"#ffffff","yOffset":-3.2},"encoding":{"x":{"datum":156.35,"type":"quantitative","scale":{"domain":[-0.2,152.67],"nice":false,"zero":false}},"y":{"field":"v","type":"quantitative","scale":{"type":"log","domain":[1122.3,1622.8],"nice":false}},"text":{"field":"t"}}},
{"data":{"values":[{"v":1257.84,"t":"1,257.84"}]},"mark":{"type":"point","shape":"M-1,-0.215H1V0.215H-1Z","size":1225,"filled":true,"opacity":1,"strokeWidth":0,"fill":"#ff0000","yOffset":-4.8},"encoding":{"x":{"datum":156.35,"type":"quantitative","scale":{"domain":[-0.2,152.67],"nice":false,"zero":false}},"y":{"field":"v","type":"quantitative","scale":{"type":"log","domain":[1122.3,1622.8],"nice":false}}}},
{"data":{"values":[{"v":1257.84,"t":"1,257.84"}]},"mark":{"type":"text","fontSize":5.5,"align":"center","baseline":"middle","color":"#000000","yOffset":-4.8},"encoding":{"x":{"datum":156.35,"type":"quantitative","scale":{"domain":[-0.2,152.67],"nice":false,"zero":false}},"y":{"field":"v","type":"quantitative","scale":{"type":"log","domain":[1122.3,1622.8],"nice":false}},"text":{"field":"t"}}},
{"data":{"values":[{"v":1248.4,"t":"1,248.4"}]},"mark":{"type":"point","shape":"M-1,-0.215H1V0.215H-1Z","size":1225,"filled":true,"opacity":1,"strokeWidth":0,"fill":"#000000"},"encoding":{"x":{"datum":156.35,"type":"quantitative","scale":{"domain":[-0.2,152.67],"nice":false,"zero":false}},"y":{"field":"v","type":"quantitative","scale":{"type":"log","domain":[1122.3,1622.8],"nice":false}}}},
{"data":{"values":[{"v":1248.4,"t":"1,248.4"}]},"mark":{"type":"text","fontSize":5.5,"align":"center","baseline":"middle","color":"#ffffff"},"encoding":{"x":{"datum":156.35,"type":"quantitative","scale":{"domain":[-0.2,152.67],"nice":false,"zero":false}},"y":{"field":"v","type":"quantitative","scale":{"type":"log","domain":[1122.3,1622.8],"nice":false}},"text":{"field":"t"}}},
{"data":{"values":[{"v":1247.21,"t":"1,247.21"}]},"mark":{"type":"point","shape":"M-1,-0.215H1V0.215H-1Z","size":1225,"filled":true,"opacity":1,"strokeWidth":0,"fill":"#ffd800","yOffset":7.5},"encoding":{"x":{"datum":156.35,"type":"quantitative","scale":{"domain":[-0.2,152.67],"nice":false,"zero":false}},"y":{"field":"v","type":"quantitative","scale":{"type":"log","domain":[1122.3,1622.8],"nice":false}}}},
{"data":{"values":[{"v":1247.21,"t":"1,247.21"}]},"mark":{"type":"text","fontSize":5.5,"align":"center","baseline":"middle","color":"#000000","yOffset":7.5},"encoding":{"x":{"datum":156.35,"type":"quantitative","scale":{"domain":[-0.2,152.67],"nice":false,"zero":false}},"y":{"field":"v","type":"quantitative","scale":{"type":"log","domain":[1122.3,1622.8],"nice":false}},"text":{"field":"t"}}},
{"data":{"values":[{"v":1233.21,"t":"1,233.21"}]},"mark":{"type":"point","shape":"M-1,-0.215H1V0.215H-1Z","size":1225,"filled":true,"opacity":1,"strokeWidth":0,"fill":"#ff0000","yOffset":7.9},"encoding":{"x":{"datum":156.35,"type":"quantitative","scale":{"domain":[-0.2,152.67],"nice":false,"zero":false}},"y":{"field":"v","type":"quantitative","scale":{"type":"log","domain":[1122.3,1622.8],"nice":false}}}},
{"data":{"values":[{"v":1233.21,"t":"1,233.21"}]},"mark":{"type":"text","fontSize":5.5,"align":"center","baseline":"middle","color":"#000000","yOffset":7.9},"encoding":{"x":{"datum":156.35,"type":"quantitative","scale":{"domain":[-0.2,152.67],"nice":false,"zero":false}},"y":{"field":"v","type":"quantitative","scale":{"type":"log","domain":[1122.3,1622.8],"nice":false}},"text":{"field":"t"}}},
{"data":{"values":[{"v":1230.48,"t":"1,230.48"}]},"mark":{"type":"point","shape":"M-1,-0.215H1V0.215H-1Z","size":1225,"filled":true,"opacity":1,"strokeWidth":0,"fill":"#1a1aff","yOffset":14.3},"encoding":{"x":{"datum":156.35,"type":"quantitative","scale":{"domain":[-0.2,152.67],"nice":false,"zero":false}},"y":{"field":"v","type":"quantitative","scale":{"type":"log","domain":[1122.3,1622.8],"nice":false}}}},
{"data":{"values":[{"v":1230.48,"t":"1,230.48"}]},"mark":{"type":"text","fontSize":5.5,"align":"center","baseline":"middle","color":"#ffffff","yOffset":14.3},"encoding":{"x":{"datum":156.35,"type":"quantitative","scale":{"domain":[-0.2,152.67],"nice":false,"zero":false}},"y":{"field":"v","type":"quantitative","scale":{"type":"log","domain":[1122.3,1622.8],"nice":false}},"text":{"field":"t"}}}
]}
]
},
{
"spacing":0,
"bounds":"flush",
"vconcat":[
{
"width":763,"height":57,
"title":{"text":"VNINDEX - MACD(12,26) = 2.31, Signal(12,26,9) = 8.11","offset":-5},
"layer":[
{"data":{"name":"macd"},
"mark":{"type":"line","color":"#7b7bff","strokeWidth":1.2},
"encoding":{"x":{"field":"i","type":"quantitative","scale":{"domain":[-0.2,152.67],"nice":false,"zero":false},"axis":null},
"y":{"field":"s","type":"quantitative","scale":{"domain":[-70.5,24.5],"nice":false,"zero":false},
"axis":{"orient":"right","values":[10,0,-10,-20,-30,-40,-50,-60],"tickCount":30,"labelExpr":"datum.value==0||datum.value==10?'':format(datum.value,'.1f')","grid":true,"tickSize":4,"labelPadding":2,"title":null,"labelAlign":"left","labelOverlap":false,"labelBound":false,"labelFlush":false}}}},
{"data":{"name":"bars"},
"mark":{"type":"rule","color":"#222222","strokeWidth":0.8,"strokeDash":[2,1]},
"encoding":{"x":{"field":"i","type":"quantitative","scale":{"domain":[-0.2,152.67],"nice":false,"zero":false},"axis":null},
"y":{"field":"hist","type":"quantitative","scale":{"domain":[-70.5,24.5],"nice":false,"zero":false}},
"y2":{"datum":0}}},
{"data":{"name":"macd"},
"mark":{"type":"line","color":"#ff7b7b","strokeWidth":1.2},
"encoding":{"x":{"field":"i","type":"quantitative","scale":{"domain":[-0.2,152.67],"nice":false,"zero":false},"axis":null},
"y":{"field":"m","type":"quantitative","scale":{"domain":[-70.5,24.5],"nice":false,"zero":false}}}},
{"data":{"values":[{"v":8.11,"t":"8.11319"}]},"mark":{"type":"point","shape":"M-1,-0.215H1V0.215H-1Z","size":1225,"filled":true,"opacity":1,"strokeWidth":0,"fill":"#1a1aff","yOffset":-5.1},"encoding":{"x":{"datum":156.35,"type":"quantitative","scale":{"domain":[-0.2,152.67],"nice":false,"zero":false},"axis":null},"y":{"field":"v","type":"quantitative","scale":{"domain":[-70.5,24.5],"nice":false,"zero":false}}}},
{"data":{"values":[{"v":8.11,"t":"8.11319"}]},"mark":{"type":"text","fontSize":5.5,"align":"center","baseline":"middle","color":"#ffffff","yOffset":-5.1},"encoding":{"x":{"datum":156.35,"type":"quantitative","scale":{"domain":[-0.2,152.67],"nice":false,"zero":false},"axis":null},"y":{"field":"v","type":"quantitative","scale":{"domain":[-70.5,24.5],"nice":false,"zero":false}},"text":{"field":"t"}}},
{"data":{"values":[{"v":2.31,"t":"2.31113"}]},"mark":{"type":"point","shape":"M-1,-0.215H1V0.215H-1Z","size":1225,"filled":true,"opacity":1,"strokeWidth":0,"fill":"#ff0000"},"encoding":{"x":{"datum":156.35,"type":"quantitative","scale":{"domain":[-0.2,152.67],"nice":false,"zero":false},"axis":null},"y":{"field":"v","type":"quantitative","scale":{"domain":[-70.5,24.5],"nice":false,"zero":false}}}},
{"data":{"values":[{"v":2.31,"t":"2.31113"}]},"mark":{"type":"text","fontSize":5.5,"align":"center","baseline":"middle","color":"#000000"},"encoding":{"x":{"datum":156.35,"type":"quantitative","scale":{"domain":[-0.2,152.67],"nice":false,"zero":false},"axis":null},"y":{"field":"v","type":"quantitative","scale":{"domain":[-70.5,24.5],"nice":false,"zero":false}},"text":{"field":"t"}}}
]
},
{
"width":763,"height":58,
"title":{"text":"VNINDEX - RSI(15) = 47.17","offset":-6},
"layer":[
{"data":{"name":"bars"},
"mark":{"type":"line","color":"#ff7070","strokeWidth":1},
"encoding":{"x":{"field":"i","type":"quantitative","scale":{"domain":[-0.2,152.67],"nice":false,"zero":false},"axis":null},
"y":{"field":"rsi","type":"quantitative","scale":{"domain":[17.5,73.2],"nice":false,"zero":false},
"axis":{"orient":"right","values":[70,30],"tickCount":30,"format":".1f","grid":true,"tickSize":4,"labelPadding":2,"title":null,"labelAlign":"left","labelOverlap":false}}}},
{"data":{"values":[{"v":47.17,"t":"47.1741"}]},"mark":{"type":"point","shape":"M-1,-0.215H1V0.215H-1Z","size":1225,"filled":true,"opacity":1,"strokeWidth":0,"fill":"#ff0000"},"encoding":{"x":{"datum":156.35,"type":"quantitative","scale":{"domain":[-0.2,152.67],"nice":false,"zero":false},"axis":null},"y":{"field":"v","type":"quantitative","scale":{"domain":[17.5,73.2],"nice":false,"zero":false}}}},
{"data":{"values":[{"v":47.17,"t":"47.1741"}]},"mark":{"type":"text","fontSize":5.5,"align":"center","baseline":"middle","color":"#000000"},"encoding":{"x":{"datum":156.35,"type":"quantitative","scale":{"domain":[-0.2,152.67],"nice":false,"zero":false},"axis":null},"y":{"field":"v","type":"quantitative","scale":{"domain":[17.5,73.2],"nice":false,"zero":false}},"text":{"field":"t"}}}
]
},
{
"width":763,"height":91,
"title":{"text":"Marar Volume Histogram - VNINDEX 13/09/2022 00:00:00 Daily ,Open 1251.1 ,High 1252.35 ,Low 1243.87 ,Close 1248.4 average volume = 617,880,256.00, Long term average = 571,427,456.00, price = 410,707,392.00, average volume = 617,880,256.00, MA1(average volume,20) = 630,417,920.00","limit":790,"offset":-6},
"layer":[
{"data":{"name":"vavg"},
"transform":[{"filter":"datum.k=='avg'"}],
"mark":{"type":"area","color":"#6b6b6b"},
"encoding":{"x":{"field":"i","type":"quantitative","scale":{"domain":[-0.2,152.67],"nice":false,"zero":false}},
"y":{"field":"v","type":"quantitative","scale":{"domain":[-23.6,1242],"nice":false,"zero":false},
"axis":{"orient":"right","values":[0,200,400,600,800,1000,1200],"tickCount":30,"labelExpr":"datum.value==1200?'1,200M':datum.value==1000?'1,000M':datum.value==200?'200M':''","grid":true,"tickSize":4,"labelPadding":2,"title":null,"labelAlign":"left","labelOverlap":false,"labelBound":false,"labelFlush":false}}}},
{"data":{"name":"bars"},
"mark":{"type":"bar","width":3.6,"strokeWidth":0.6},
"encoding":{"x":{"field":"i","type":"quantitative","scale":{"domain":[-0.2,152.67],"nice":false,"zero":false},
"axis":{"values":[0,7,30,50,70,92,113,136],"tickCount":30,"labelExpr":"datum.value==0?'February':datum.value==7?'March':datum.value==30?'April':datum.value==50?'May':datum.value==70?'Jun':datum.value==92?'Jul':datum.value==113?'August':'September'","tickSize":7,"labelPadding":-7,"labelAlign":"left","labelBaseline":"top","labelOffset":2,"grid":false,"labelFlush":false,"labelBound":false,"labelOverlap":false,"tickColor":"#444",
"title":"Created with AmiBroker - advanced charting and technical analysis software. http://www.amibroker.com","titleAnchor":"start","titleFontSize":5.6,"titleFontWeight":"normal","titleColor":"#222","titlePadding":2,"titleFont":"Liberation Sans"}},
"y":{"field":"v","type":"quantitative","scale":{"domain":[-23.6,1242],"nice":false,"zero":false}},
"y2":{"datum":0},
"fill":{"condition":[{"test":"datum.vc=='g'","value":"#0f9a0f"},{"test":"datum.vc=='w'","value":"#ffffff"}],"value":"#9b0000"},
"stroke":{"condition":[{"test":"datum.vc=='g'","value":"#22d022"},{"test":"datum.vc=='w'","value":"#9a9a9a"}],"value":"#ff2020"}}},
{"data":{"name":"vavg"},
"mark":{"type":"line","strokeWidth":1},
"encoding":{"x":{"field":"i","type":"quantitative","scale":{"domain":[-0.2,152.67],"nice":false,"zero":false}},
"y":{"field":"v","type":"quantitative","scale":{"domain":[-23.6,1242],"nice":false,"zero":false}},
"stroke":{"field":"k","type":"nominal","scale":{"domain":["avg","m20","lt"],"range":["#ffff40","#ff4a4a","#ff8a3d"]},"legend":null},
"strokeDash":{"field":"k","type":"nominal","scale":{"domain":["avg","m20","lt"],"range":[[1,0],[1,0],[3,2]]},"legend":null}}},
{"data":{"values":[{"v":630.4,"t":"630,417,9"}]},"mark":{"type":"point","shape":"M-1,-0.215H1V0.215H-1Z","size":1225,"filled":true,"opacity":1,"strokeWidth":0,"fill":"#ff0000","yOffset":-14.3},"encoding":{"x":{"datum":156.35,"type":"quantitative","scale":{"domain":[-0.2,152.67],"nice":false,"zero":false}},"y":{"field":"v","type":"quantitative","scale":{"domain":[-23.6,1242],"nice":false,"zero":false}}}},
{"data":{"values":[{"v":630.4,"t":"630,417,9"}]},"mark":{"type":"text","fontSize":5.5,"align":"center","baseline":"middle","color":"#000000","yOffset":-14.3},"encoding":{"x":{"datum":156.35,"type":"quantitative","scale":{"domain":[-0.2,152.67],"nice":false,"zero":false}},"y":{"field":"v","type":"quantitative","scale":{"domain":[-23.6,1242],"nice":false,"zero":false}},"text":{"field":"t"}}},
{"data":{"values":[{"v":617.9,"t":"617,880,2"}]},"mark":{"type":"point","shape":"M-1,-0.215H1V0.215H-1Z","size":1225,"filled":true,"opacity":1,"strokeWidth":0,"fill":"#ffff00","yOffset":-7.2},"encoding":{"x":{"datum":156.35,"type":"quantitative","scale":{"domain":[-0.2,152.67],"nice":false,"zero":false}},"y":{"field":"v","type":"quantitative","scale":{"domain":[-23.6,1242],"nice":false,"zero":false}}}},
{"data":{"values":[{"v":617.9,"t":"617,880,2"}]},"mark":{"type":"text","fontSize":5.5,"align":"center","baseline":"middle","color":"#000000","yOffset":-7.2},"encoding":{"x":{"datum":156.35,"type":"quantitative","scale":{"domain":[-0.2,152.67],"nice":false,"zero":false}},"y":{"field":"v","type":"quantitative","scale":{"domain":[-23.6,1242],"nice":false,"zero":false}},"text":{"field":"t"}}},
{"data":{"values":[{"v":617.9,"t":"617,880,2"}]},"mark":{"type":"point","shape":"M-1,-0.215H1V0.215H-1Z","size":1225,"filled":true,"opacity":1,"strokeWidth":0,"fill":"#f2ee9a","yOffset":0.4},"encoding":{"x":{"datum":156.35,"type":"quantitative","scale":{"domain":[-0.2,152.67],"nice":false,"zero":false}},"y":{"field":"v","type":"quantitative","scale":{"domain":[-23.6,1242],"nice":false,"zero":false}}}},
{"data":{"values":[{"v":617.9,"t":"617,880,2"}]},"mark":{"type":"text","fontSize":5.5,"align":"center","baseline":"middle","color":"#000000","yOffset":0.4},"encoding":{"x":{"datum":156.35,"type":"quantitative","scale":{"domain":[-0.2,152.67],"nice":false,"zero":false}},"y":{"field":"v","type":"quantitative","scale":{"domain":[-23.6,1242],"nice":false,"zero":false}},"text":{"field":"t"}}},
{"data":{"values":[{"v":571.4,"t":"571,427,4"}]},"mark":{"type":"point","shape":"M-1,-0.215H1V0.215H-1Z","size":1225,"filled":true,"opacity":1,"strokeWidth":0,"fill":"#ff8000","yOffset":5.1},"encoding":{"x":{"datum":156.35,"type":"quantitative","scale":{"domain":[-0.2,152.67],"nice":false,"zero":false}},"y":{"field":"v","type":"quantitative","scale":{"domain":[-23.6,1242],"nice":false,"zero":false}}}},
{"data":{"values":[{"v":571.4,"t":"571,427,4"}]},"mark":{"type":"text","fontSize":5.5,"align":"center","baseline":"middle","color":"#000000","yOffset":5.1},"encoding":{"x":{"datum":156.35,"type":"quantitative","scale":{"domain":[-0.2,152.67],"nice":false,"zero":false}},"y":{"field":"v","type":"quantitative","scale":{"domain":[-23.6,1242],"nice":false,"zero":false}},"text":{"field":"t"}}},
{"data":{"values":[{"v":410.7,"t":"410,707,3"}]},"mark":{"type":"point","shape":"M-1,-0.215H1V0.215H-1Z","size":1225,"filled":true,"opacity":1,"strokeWidth":0,"fill":"#ff0000","yOffset":0.5},"encoding":{"x":{"datum":156.35,"type":"quantitative","scale":{"domain":[-0.2,152.67],"nice":false,"zero":false}},"y":{"field":"v","type":"quantitative","scale":{"domain":[-23.6,1242],"nice":false,"zero":false}}}},
{"data":{"values":[{"v":410.7,"t":"410,707,3"}]},"mark":{"type":"text","fontSize":5.5,"align":"center","baseline":"middle","color":"#000000","yOffset":0.5},"encoding":{"x":{"datum":156.35,"type":"quantitative","scale":{"domain":[-0.2,152.67],"nice":false,"zero":false}},"y":{"field":"v","type":"quantitative","scale":{"domain":[-23.6,1242],"nice":false,"zero":false}},"text":{"field":"t"}}},
{"data":{"values":[{"v":0,"t":"0.000000"}]},"mark":{"type":"point","shape":"M-1,-0.215H1V0.215H-1Z","size":1225,"filled":true,"opacity":1,"strokeWidth":0,"fill":"#444444"},"encoding":{"x":{"datum":156.35,"type":"quantitative","scale":{"domain":[-0.2,152.67],"nice":false,"zero":false}},"y":{"field":"v","type":"quantitative","scale":{"domain":[-23.6,1242],"nice":false,"zero":false}}}},
{"data":{"values":[{"v":0,"t":"0.000000"}]},"mark":{"type":"text","fontSize":5.5,"align":"center","baseline":"middle","color":"#ffffff"},"encoding":{"x":{"datum":156.35,"type":"quantitative","scale":{"domain":[-0.2,152.67],"nice":false,"zero":false}},"y":{"field":"v","type":"quantitative","scale":{"domain":[-23.6,1242],"nice":false,"zero":false}},"text":{"field":"t"}}}
]
}
]
}
]
}
